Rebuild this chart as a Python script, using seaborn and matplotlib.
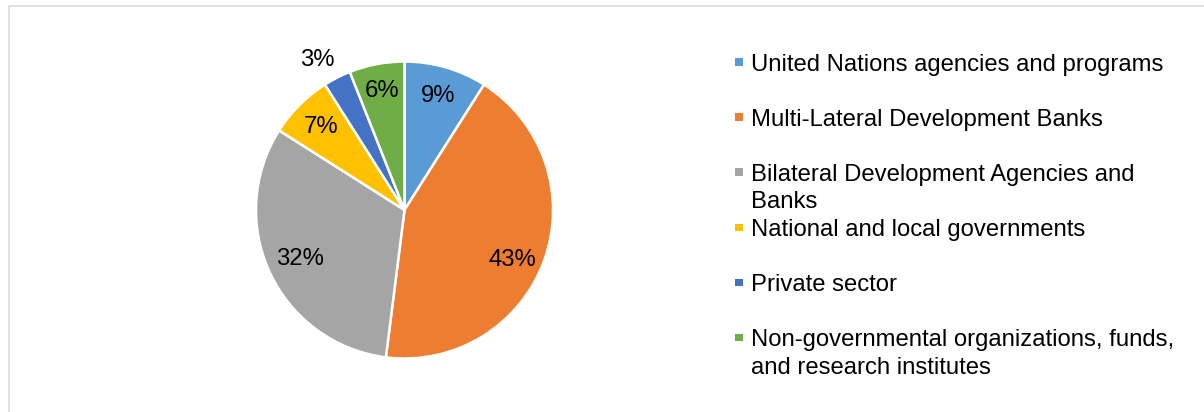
import matplotlib
matplotlib.use("Agg")
import matplotlib.pyplot as plt
import numpy as np
import seaborn as sns
from matplotlib.patches import Rectangle
from matplotlib.lines import Line2D

# Funding sources (percent of total)
categories = [
    "United Nations agencies and programs",
    "Multi-Lateral Development Banks",
    "Bilateral Development Agencies and\nBanks",
    "National and local governments",
    "Private sector",
    "Non-governmental organizations, funds,\nand research institutes",
]
shares = [9, 43, 32, 7, 3, 6]
slice_colors = ["#5B9BD5", "#ED7D31", "#A5A5A5", "#FFC000", "#4472C4", "#70AD47"]

sns.set_theme(style="white")
plt.rcParams["font.family"] = ["Liberation Sans", "DejaVu Sans"]

W, H = 1204, 412
fig = plt.figure(figsize=(W / 100, H / 100), dpi=100)
fig.patch.set_facecolor("white")
FS = 17.2


def fx(px):
    return px / W


def fy(py):
    return 1 - py / H


# chart-area border (top and left edges)
border = "#D9D9D9"
fig.add_artist(Line2D([fx(9), fx(9)], [fy(5.5), fy(H + 5)], color=border,
                      linewidth=1.1, transform=fig.transFigure))
fig.add_artist(Line2D([fx(9), fx(W + 5)], [fy(5.5), fy(5.5)], color=border,
                      linewidth=1.1, transform=fig.transFigure))

# pie
cx, cy, r = 404.5, 210, 148.5
ax = fig.add_axes([fx(cx - r), fy(cy + r), 2 * r / W, 2 * r / H])
palette = sns.color_palette(slice_colors)
wedges, _ = ax.pie(
    shares,
    colors=palette,
    startangle=90,
    counterclock=False,
    radius=1,
    wedgeprops=dict(edgecolor="white", linewidth=1.8),
)
ax.set_xlim(-1, 1)
ax.set_ylim(-1, 1)
ax.set_aspect("equal")
ax.axis("off")

# data labels (best-fit style placement)
label_radius = [0.80, 0.80, 0.78, 0.79, 1.17, 0.815]
label_shift = [0, -5, 0, 0, 3, 0]
for w, v, rad, sh in zip(wedges, shares, label_radius, label_shift):
    ang = np.deg2rad((w.theta1 + w.theta2) / 2 + sh)
    ax.text(rad * np.cos(ang), rad * np.sin(ang), f"{v}%", ha="center",
            va="center", fontsize=FS, color="black", clip_on=False)

# legend
row0, row_step, line_step = 62, 55.1, 27.5
cap_half = 8.5
for i, (lab, col) in enumerate(zip(categories, palette)):
    yc = row0 + row_step * i
    fig.add_artist(Rectangle((fx(735), fy(yc + 3.8)), 7.5 / W, 7.5 / H,
                             facecolor=col, edgecolor="none",
                             transform=fig.transFigure))
    for k, line in enumerate(lab.split("\n")):
        fig.text(fx(751), fy(yc + k * line_step + cap_half), line,
                 ha="left", va="baseline", fontsize=FS, color="black")

fig.savefig("out.png", dpi=100, facecolor="white")
